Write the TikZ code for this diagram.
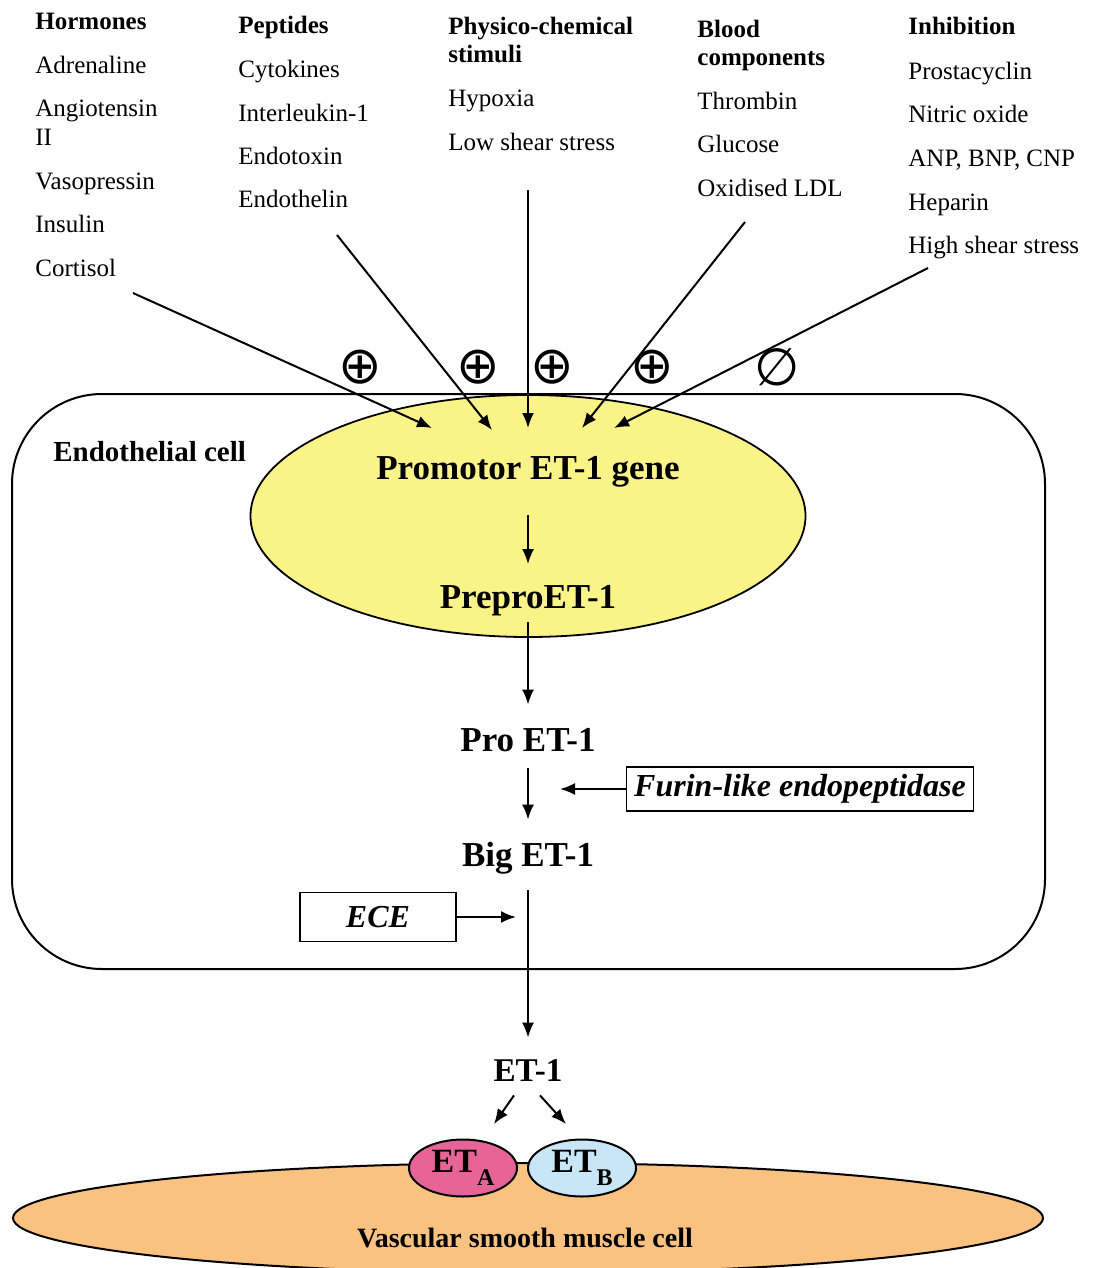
\documentclass[tikz,border=0pt]{standalone}
\usepackage{fontspec}
\setmainfont{Liberation Serif}
\newfontfamily\symfont{DejaVu Sans}
\usetikzlibrary{arrows.meta,shapes.geometric}
\definecolor{geneyellow}{RGB}{250,243,135}
\definecolor{vsmcorange}{RGB}{250,194,128}
\definecolor{etapink}{RGB}{230,100,152}
\definecolor{etbblue}{RGB}{200,230,245}
\begin{document}
\begin{tikzpicture}[x=0.5pt,y=-0.5pt,
    item/.style={anchor=base west,inner sep=0pt,font=\fontsize{12.5}{14}\selectfont},
    head/.style={item,font=\fontsize{12.5}{14}\selectfont\bfseries},
    stage/.style={inner sep=0pt,text height=12pt,text depth=3.5pt,font=\fontsize{17.5}{20}\selectfont\bfseries},
    enzyme/.style={draw,line width=0.8pt,inner sep=0pt,font=\fontsize{16}{18}\selectfont\bfseries\itshape},
    receptor/.style={ellipse,draw,line width=1pt,inner sep=0pt,minimum width=54pt,minimum height=28.5pt,font=\fontsize{17}{20}\selectfont\bfseries},
    arr/.style={-{Latex[length=7.5pt,width=6pt]},line width=1pt},
    sign/.style={inner sep=0pt,font=\fontsize{26}{26}\symfont}]
  \useasboundingbox (0,0) rectangle (1094,1268);
  % stimuli columns
  \node[head] (hormones) at (35,30) {Hormones};
  \node[item] (adren) at (35,74) {Adrenaline};
  \node[item] (angio) at (35,117) {Angiotensin};
  \node[item] (angio2) at (35,145) {II};
  \node[item] (vaso) at (35,189) {Vasopressin};
  \node[item] (insulin) at (35,232) {Insulin};
  \node[item] (cortisol) at (35,276) {Cortisol};
  \node[head] (peptides) at (238,34) {Peptides};
  \node[item] (cyto) at (238,78) {Cytokines};
  \node[item] (il1) at (238,121) {Interleukin-1};
  \node[item] (endotox) at (238,164) {Endotoxin};
  \node[item] (endothelin) at (238,207) {Endothelin};
  \node[head] (physico) at (448,35) {Physico-chemical};
  \node[head] (physico2) at (448,63) {stimuli};
  \node[item] (hypoxia) at (448,107) {Hypoxia};
  \node[item] (lowshear) at (448,150) {Low shear stress};
  \node[head] (blood) at (697,38) {Blood};
  \node[head] (blood2) at (697,66) {components};
  \node[item] (thrombin) at (697,110) {Thrombin};
  \node[item] (glucose) at (697,153) {Glucose};
  \node[item] (oxldl) at (697,196) {Oxidised LDL};
  \node[head] (inhib) at (908,35) {Inhibition};
  \node[item] (prosta) at (908,80) {Prostacyclin};
  \node[item] (no) at (908,123) {Nitric oxide};
  \node[item] (anp) at (908,166) {ANP, BNP, CNP};
  \node[item] (heparin) at (908,210) {Heparin};
  \node[item] (highshear) at (908,253) {High shear stress};
  % cells
  \draw[line width=1pt,rounded corners=45pt] (12,394) rectangle (1045,969);
  \node[anchor=base west,inner sep=0pt,font=\fontsize{14.5}{17}\selectfont\bfseries] (celllbl) at (53,461) {Endothelial cell};
  \node[ellipse,draw,line width=0.9pt,fill=geneyellow,minimum width=277.5pt,minimum height=121pt] (gene) at (528,516) {};
  \node[ellipse,draw,line width=1pt,fill=vsmcorange,minimum width=515pt,minimum height=55pt] (vsmc) at (528,1218) {};
  \node[anchor=base,inner sep=0pt,font=\fontsize{14}{17}\selectfont\bfseries] (vsmclbl) at (525,1247) {Vascular smooth muscle cell};
  \node[receptor,fill=etapink] (eta) at (463,1168) {ET\raisebox{-0.4em}{\fontsize{12}{12}\selectfont A}};
  \node[receptor,fill=etbblue] (etb) at (582,1168) {ET\raisebox{-0.4em}{\fontsize{12}{12}\selectfont B}};
  % signs
  \node[sign] (s1) at (360,367) {⊕};
  \node[sign] (s2) at (478,367) {⊕};
  \node[sign] (s3) at (552,367) {⊕};
  \node[sign] (s4) at (652,367) {⊕};
  \node[sign] (s5) at (777,367) {∅};
  % stimulus arrows
  \coordinate (t1) at (133,293); \coordinate (h1) at (432,428);
  \coordinate (t2) at (337,235); \coordinate (h2) at (492,430);
  \coordinate (t3) at (528,190); \coordinate (h3) at (528,428);
  \coordinate (t4) at (745,222); \coordinate (h4) at (582,428);
  \coordinate (t5) at (928,268); \coordinate (h5) at (614,428);
  \foreach \i in {1,...,5} \draw[arr] (t\i) -- (h\i);
  % pathway
  \node[stage] (promotor) at (528,471) {Promotor ET-1 gene};
  \node[stage] (prepro) at (528,600) {PreproET-1};
  \node[stage] (pro) at (528,743) {Pro ET-1};
  \node[stage] (big) at (528,858) {Big ET-1};
  \node[stage,font=\fontsize{16.6}{20}\selectfont\bfseries] (et1) at (528,1073) {ET-1};
  \draw[arr,shorten <=14pt,shorten >=10pt] (promotor.south) -- (prepro.north);
  \draw[arr,shorten <=3.25pt,shorten >=11.25pt] (prepro.south) -- (pro.north);
  \draw[arr,shorten <=4.75pt,shorten >=11.25pt] (pro.south) -- (big.north);
  \draw[arr,shorten <=8.25pt,shorten >=9.75pt] (big.south) -- (et1.north);
  \draw[arr] ([xshift=-7pt,yshift=-3.25pt]et1.south) -- ([xshift=15.5pt,yshift=7.25pt]eta.north);
  \draw[arr] ([xshift=6pt,yshift=-3.25pt]et1.south) -- ([xshift=-8pt,yshift=7.25pt]etb.north);
  % enzymes
  \node[enzyme,minimum width=173.5pt,minimum height=22pt] (furin) at (800,789) {Furin-like endopeptidase};
  \coordinate (furtip) at (560,789);
  \draw[arr] (furin.west) -- (furtip);
  \node[enzyme,minimum width=78pt,minimum height=24.5pt] (ece) at (378,917) {ECE};
  \coordinate (ecetip) at (516,917);
  \draw[arr] (ece.east) -- (ecetip);
\end{tikzpicture}
\end{document}
